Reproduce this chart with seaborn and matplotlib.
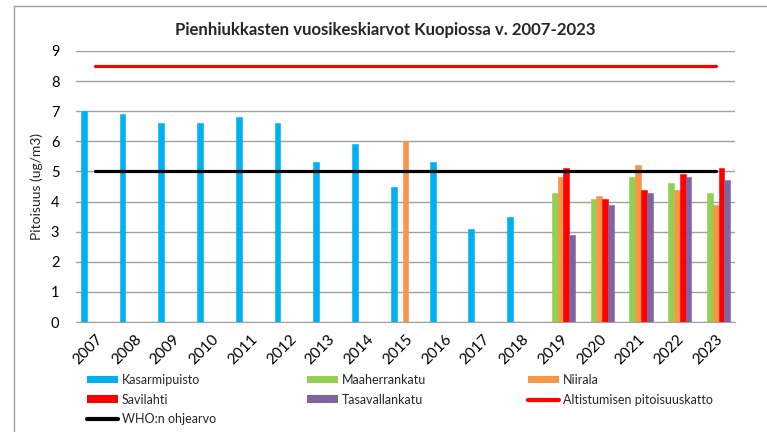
import numpy as np
import pandas as pd
import matplotlib.pyplot as plt
import seaborn as sns
from matplotlib.patches import Patch, Rectangle
from matplotlib.lines import Line2D

nan = np.nan
years = [str(y) for y in range(2007, 2024)]
stations = ['Kasarmipuisto', 'Maaherrankatu', 'Niirala', 'Savilahti', 'Tasavallankatu']
colors = ['#00b0f0', '#92d050', '#f79646', '#ff0000', '#8064a2']

# annual means per station (ug/m3)
kasarmipuisto = [7.0, 6.9, 6.6, 6.6, 6.8, 6.6, 5.3, 5.9, 4.5, 5.3, 3.1, 3.5, nan, nan, nan, nan, nan]
maaherrankatu = [nan, nan, nan, nan, nan, nan, nan, nan, nan, nan, nan, nan, 4.3, 4.1, 4.8, 4.6, 4.3]
niirala = [nan, nan, nan, nan, nan, nan, nan, nan, 6.0, nan, nan, nan, 4.8, 4.2, 5.2, 4.4, 3.9]
savilahti = [nan, nan, nan, nan, nan, nan, nan, nan, nan, nan, nan, nan, 5.1, 4.1, 4.4, 4.9, 5.1]
tasavallankatu = [nan, nan, nan, nan, nan, nan, nan, nan, nan, nan, nan, nan, 2.9, 3.9, 4.3, 4.8, 4.7]

# reference lines
altistuminen = [8.5] * len(years)
who = [5.0] * len(years)

series = [kasarmipuisto, maaherrankatu, niirala, savilahti, tasavallankatu]
df = pd.DataFrame({
    'Vuosi': years * len(stations),
    'Asema': [s for s in stations for _ in years],
    'Pitoisuus': [v for vals in series for v in vals],
}).dropna()

sns.set_style("white")
plt.rcParams['font.family'] = ['Lato', 'DejaVu Sans']

fig = plt.figure(figsize=(7.67, 4.32), dpi=100)
ax = fig.add_axes([76 / 767, 1 - 322 / 432, (735 - 76) / 767, (322 - 51) / 432])

sns.barplot(data=df, x='Vuosi', y='Pitoisuus', hue='Asema', order=years,
            hue_order=stations, palette=colors, width=0.75, saturation=1,
            errorbar=None, legend=False, ax=ax, zorder=2)
# edges in the same colour so neighbouring bars touch
for p in ax.patches:
    p.set_edgecolor(p.get_facecolor())
    p.set_linewidth(0.4)

pos = np.arange(len(years))
ax.plot(pos, altistuminen, color='#ff0000', lw=2.3, solid_capstyle='round', zorder=3)
ax.plot(pos, who, color='black', lw=2.3, solid_capstyle='round', zorder=3)

ax.set_xlim(-0.5, len(years) - 0.5)
ax.set_ylim(0, 9)
ax.set_yticks(range(10))
ax.yaxis.grid(True, color='#a0a0a0', lw=1.0, zorder=0)
ax.set_axisbelow(True)
for side in ['left', 'right', 'top']:
    ax.spines[side].set_visible(False)
ax.spines['bottom'].set_color('#a0a0a0')
ax.tick_params(axis='both', length=0, labelsize=10.5, colors='black')
ax.tick_params(axis='y', pad=12)
ax.tick_params(axis='x', pad=7, labelsize=11)
ax.set_xticks(pos)
ax.set_xticklabels(years, rotation=45, ha='right', rotation_mode='anchor')
ax.set_xlabel('')
ax.set_ylabel('')

fig.text(385 / 767, 1 - 30 / 432, 'Pienhiukkasten vuosikeskiarvot Kuopiossa v. 2007-2023',
         ha='center', va='center', fontsize=12.1, fontweight='bold')
fig.text(37 / 767, 1 - 187 / 432, 'Pitoisuus (ug/m3)', rotation=90,
         ha='center', va='center', fontsize=10)

# chart area border
fig.add_artist(Rectangle((14 / 767, -0.1), 1.2, 1.1 - 6 / 432, transform=fig.transFigure,
                         fill=False, edgecolor='#a0a0a0', lw=1.0))

# legend in three columns
bar_handles = [Patch(facecolor=c, edgecolor='none') for c in colors]
line_alt = Line2D([], [], color='#ff0000', lw=3, solid_capstyle='round')
line_who = Line2D([], [], color='black', lw=3, solid_capstyle='round')
columns = [
    ([bar_handles[0], bar_handles[3], line_who], ['Kasarmipuisto', 'Savilahti', 'WHO:n ohjearvo'], 87),
    ([bar_handles[1], bar_handles[4]], ['Maaherrankatu', 'Tasavallankatu'], 307),
    ([bar_handles[2], line_alt], ['Niirala', 'Altistumisen pitoisuuskatto'], 528),
]
for handles, labels, x in columns:
    fig.legend(handles, labels, loc='upper left', bbox_to_anchor=(x / 767, 1 - 374 / 432),
               frameon=False, fontsize=9, handlelength=2.48, handleheight=0.56,
               handletextpad=0.32, labelspacing=0.61, borderpad=0, borderaxespad=0)

fig.savefig('out.png', dpi=100)
